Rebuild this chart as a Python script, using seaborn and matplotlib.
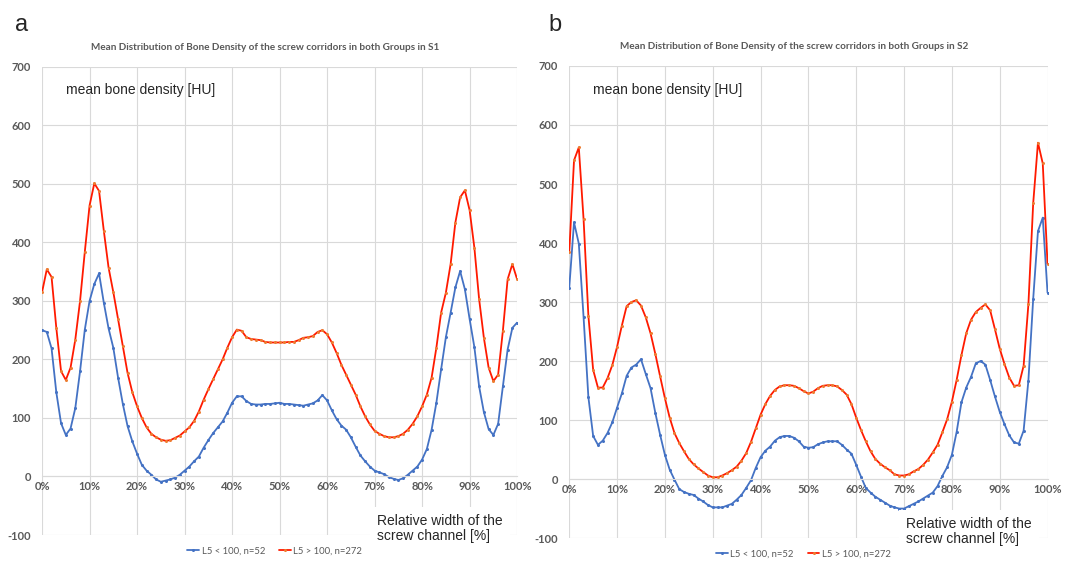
import pandas as pd
import matplotlib
matplotlib.use("Agg")
import matplotlib.pyplot as plt
import seaborn as sns

# relative width of the screw channel, 0..100 %
pct = list(range(101))

# S1, mean bone density [HU]
s1_low = [250, 247, 219, 144, 91, 71, 82, 117, 180, 251,
          300, 329, 347, 297, 253, 220, 169, 124, 86, 60,
          39, 20, 10, 3, -5, -9, -7, -5, -2, 3,
          10, 17, 26, 34, 49, 62, 74, 84, 94, 109,
          126, 137, 137, 129, 124, 123, 123, 124, 124, 125,
          126, 124, 124, 123, 122, 121, 123, 125, 130, 139,
          130, 113, 98, 87, 80, 67, 51, 36, 26, 17,
          10, 7, 4, -1, -4, -6, -3, 3, 10, 17,
          29, 47, 80, 126, 183, 238, 280, 323, 351, 320,
          269, 221, 154, 110, 81, 71, 90, 154, 217, 254,
          263]
s1_high = [315, 354, 341, 254, 180, 165, 186, 234, 300, 384,
           463, 501, 488, 420, 357, 315, 269, 223, 177, 144,
           120, 100, 84, 73, 67, 63, 61, 62, 66, 70,
           77, 84, 95, 111, 131, 149, 166, 183, 200, 220,
           238, 251, 249, 238, 235, 234, 233, 230, 229, 229,
           229, 229, 230, 230, 233, 237, 238, 240, 247, 250,
           243, 229, 211, 191, 174, 157, 140, 120, 103, 89,
           78, 73, 69, 67, 67, 69, 73, 80, 90, 103,
           120, 140, 169, 220, 280, 314, 363, 434, 477, 489,
           455, 391, 303, 237, 186, 163, 174, 249, 337, 363,
           337]

# S2
s2_low = [324, 435, 399, 274, 139, 73, 58, 65, 78, 96,
          121, 145, 175, 189, 194, 203, 178, 154, 112, 75,
          41, 16, -1, -17, -22, -25, -27, -33, -38, -44,
          -48, -48, -48, -45, -42, -35, -27, -15, -2, 19,
          37, 48, 55, 65, 71, 73, 73, 70, 64, 55,
          53, 54, 59, 62, 64, 64, 64, 58, 50, 43,
          24, 4, -15, -23, -30, -35, -40, -45, -48, -50,
          -50, -46, -42, -38, -33, -28, -23, -12, 5, 20,
          41, 80, 130, 155, 173, 196, 200, 194, 168, 140,
          114, 93, 74, 62, 60, 82, 167, 305, 420, 443,
          316]
s2_high = [384, 540, 562, 440, 277, 185, 155, 155, 171, 193,
           224, 260, 293, 300, 303, 294, 274, 247, 212, 174,
           137, 104, 78, 61, 47, 34, 25, 18, 12, 6,
           3, 3, 6, 10, 15, 21, 31, 44, 63, 86,
           109, 127, 141, 151, 157, 159, 159, 158, 154, 149,
           145, 148, 154, 158, 159, 159, 157, 151, 143, 127,
           104, 83, 64, 47, 34, 26, 20, 15, 8, 6,
           6, 8, 13, 17, 24, 33, 45, 58, 79, 101,
           131, 168, 210, 247, 270, 283, 290, 296, 286, 254,
           221, 195, 172, 158, 159, 192, 296, 467, 570, 535,
           365]

groups = ["L5 < 100, n=52", "L5 > 100, n=272"]
yticks = list(range(-100, 701, 100))
xticks = list(range(0, 101, 10))
xlabels = [f"{t}%" for t in xticks]

sns.set_style("white")
plt.rcParams['font.family'] = ['Lato', 'DejaVu Sans']
plt.rcParams['axes.unicode_minus'] = False

gray = "#595959"
gridc = "#D9D9D9"
blue = "#4472C4"
red = "#FF1A00"
orange = "#ED7D31"

fig = plt.figure(figsize=(10.7, 5.64), dpi=100)
axes = [fig.add_axes([0.0393, 0.0514, 0.444, 0.830]),
        fig.add_axes([0.532, 0.046, 0.447, 0.837])]

panels = [("a", "S1", s1_low, s1_high, 0.025), ("b", "S2", s2_low, s2_high, 0.0196)]

for ax, (letter, sname, low, high, loff) in zip(axes, panels):
    df = pd.DataFrame({"pct": pct * 2, "hu": low + high,
                       "group": [groups[0]] * 101 + [groups[1]] * 101})
    sns.lineplot(data=df[df.group == groups[0]], x="pct", y="hu", ax=ax,
                 color=blue, lw=1.3, marker="o", markersize=2.2,
                 markeredgewidth=0, label=groups[0])
    sns.lineplot(data=df[df.group == groups[1]], x="pct", y="hu", ax=ax,
                 color=red, lw=1.3, marker="o", markersize=2.2,
                 markerfacecolor=orange, markeredgewidth=0, label=groups[1])

    ax.set_xlim(0, 100)
    ax.set_ylim(-100, 700)
    ax.set_xticks(xticks)
    ax.set_xticklabels(xlabels)
    ax.set_yticks(yticks)
    ax.grid(True, color=gridc, lw=0.8)
    for s in ["top", "right", "left"]:
        ax.spines[s].set_visible(False)
    ax.spines["bottom"].set_position(("data", 0))
    ax.spines["bottom"].set_color(gridc)
    ax.tick_params(length=0, labelsize=8, labelcolor=gray)
    ax.tick_params(axis="y", pad=8)
    for lab in ax.get_xticklabels() + ax.get_yticklabels():
        lab.set_fontweight("bold")
    ax.set_xlabel("")
    ax.set_ylabel("")

    ax.text(0.05, 0.965, "mean bone density [HU]", transform=ax.transAxes,
            fontsize=10, family="Liberation Sans", va="top", ha="left")
    ax.text(0.705, 0.013, "Relative width of the\nscrew channel [%]",
            transform=ax.transAxes, fontsize=10, family="Liberation Sans",
            va="center", ha="left", linespacing=1.1, zorder=5, clip_on=False,
            bbox=dict(boxstyle="square,pad=0.5", facecolor="white", edgecolor="none"))
    ax.set_title(f"Mean Distribution of Bone Density of the screw corridors in both Groups in {sname}",
                 fontsize=7.2, fontweight="bold", color=gray, pad=12, x=0.47)
    ax.legend(loc="center", bbox_to_anchor=(0.49, -0.034), ncol=2, frameon=False,
              fontsize=6.8, handlelength=1.2, handletextpad=0.3, columnspacing=1.5,
              labelcolor=gray, borderaxespad=0)
    pos = ax.get_position()
    fig.text(pos.x0 - loff, 0.955, letter, fontsize=17, family="Liberation Sans",
             va="center", ha="left")

fig.savefig("out.png", dpi=100)
